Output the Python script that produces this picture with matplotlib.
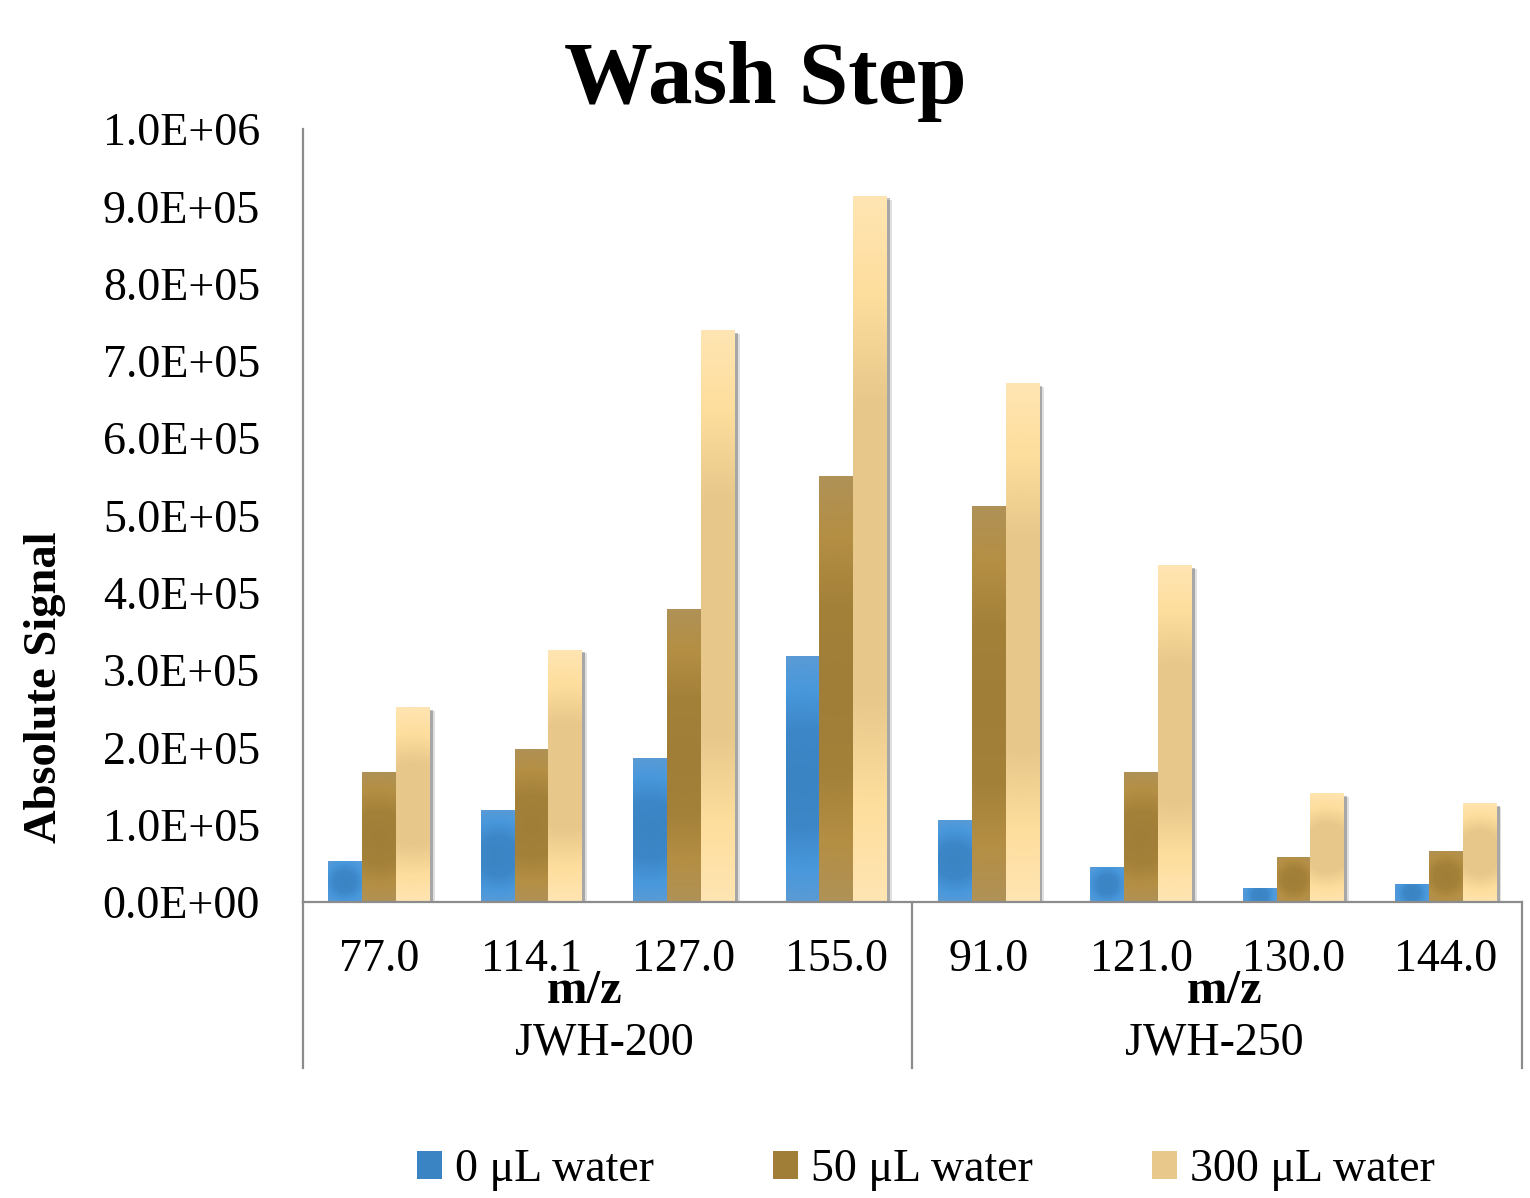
import numpy as np
import matplotlib
matplotlib.use("Agg")
import matplotlib.pyplot as plt
import matplotlib.patheffects as pe
import matplotlib.transforms as mtransforms
from matplotlib.patches import Patch
from matplotlib.colors import to_rgb
from matplotlib.ticker import FormatStrFormatter

# ---- data -------------------------------------------------------------
mz_labels = ["77.0", "114.1", "127.0", "155.0", "91.0", "121.0", "130.0", "144.0"]
compounds = ["JWH-200", "JWH-250"]
series_names = ["0 μL water", "50 μL water", "300 μL water"]
water_0 = [5.2e4, 1.18e5, 1.86e5, 3.17e5, 1.05e5, 4.5e4, 1.7e4, 2.3e4]
water_50 = [1.68e5, 1.97e5, 3.79e5, 5.51e5, 5.11e5, 1.68e5, 5.8e4, 6.5e4]
water_300 = [2.51e5, 3.26e5, 7.39e5, 9.13e5, 6.71e5, 4.35e5, 1.40e5, 1.27e5]
y_ticks = np.arange(0, 1.0e6 + 1, 1.0e5)

# radial gradient stops (centre -> edge) for each series
gradients = [
    ["#3A84C4", "#3D87C8", "#4898DC", "#5B9BD5"],
    ["#A07E38", "#A48139", "#B48F44", "#B09258"],
    ["#E9C88B", "#E7C78A", "#FEDE9D", "#FFE5B3"],
]
stop_pos = [0.0, 0.4, 0.72, 1.0]

plt.rcParams["font.family"] = ["Liberation Serif", "DejaVu Serif"]

W, H = 1530, 1198
fig = plt.figure(figsize=(W / 100, H / 100), dpi=100)
ax = fig.add_axes([303 / W, 1 - 902 / H, 1219 / W, 773 / H])

n_groups = len(mz_labels)
x = np.arange(n_groups)
bw = 0.222
offsets = [-bw, 0.0, bw]
series = [water_0, water_50, water_300]

ax.set_xlim(-0.5, n_groups - 0.5)
ax.set_ylim(0, 1.0e6)


def radial_fill(x0, x1, h, stops):
    """Paint a bar rectangle with a centre-out radial gradient."""
    p0 = ax.transData.transform((x0, 0))
    p1 = ax.transData.transform((x1, h))
    wpx = max(abs(p1[0] - p0[0]), 2)
    hpx = max(abs(p1[1] - p0[1]), 2)
    nx, ny = int(np.ceil(wpx)), int(np.ceil(hpx))
    xs = (np.arange(nx) + 0.5) - nx / 2
    ys = (np.arange(ny) + 0.5) - ny / 2
    X, Y = np.meshgrid(xs, ys)
    r = np.sqrt(X ** 2 + Y ** 2) / np.sqrt((nx / 2) ** 2 + (ny / 2) ** 2)
    cols = np.array([to_rgb(c) for c in stops])
    img = np.zeros((ny, nx, 3))
    for k in range(3):
        img[..., k] = np.interp(r, stop_pos, cols[:, k])
    ax.imshow(img, extent=(x0, x1, 0, h), origin="lower", aspect="auto",
              interpolation="bilinear", zorder=3)


shadow = [
    pe.SimplePatchShadow(offset=(3.5, -2.5), shadow_rgbFace="#000000", alpha=0.12),
    pe.SimplePatchShadow(offset=(2.2, -1.6), shadow_rgbFace="#000000", alpha=0.25),
]

for i, vals in enumerate(series):
    bars = ax.bar(x + offsets[i], vals, width=bw, color=gradients[i][1],
                  linewidth=0, zorder=2, path_effects=shadow)
    for b in bars:
        radial_fill(b.get_x(), b.get_x() + b.get_width(), b.get_height(), gradients[i])

ax.set_xlim(-0.5, n_groups - 0.5)
ax.set_ylim(0, 1.0e6)

# axes styling
for s in ["top", "right"]:
    ax.spines[s].set_visible(False)
for s in ["left", "bottom"]:
    ax.spines[s].set_color("#8C8C8C")
    ax.spines[s].set_linewidth(1.6)
ax.spines["bottom"].set_zorder(4)

ax.set_yticks(y_ticks)
ax.yaxis.set_major_formatter(FormatStrFormatter("%.1E"))
ax.tick_params(axis="y", length=0, pad=31, labelsize=33)
ax.set_xticks(x)
ax.set_xticklabels(mz_labels)
ax.tick_params(axis="x", length=0, pad=26, labelsize=33)

# category separators below the axis
trans = mtransforms.blended_transform_factory(ax.transData, ax.transAxes)
for xb in [-0.5, n_groups / 2 - 0.5, n_groups - 0.5]:
    ax.plot([xb, xb], [0, -0.2147], transform=trans, color="#8C8C8C",
            lw=1.6, clip_on=False, zorder=4)

for xc, name in zip([1.5, 5.5], compounds):
    ax.text(xc - 0.02, -0.1825, name, transform=trans, ha="center", va="center",
            fontsize=33)
for xm in [1.35, 5.55]:
    ax.text(xm, -0.115, "m/z", transform=trans, ha="center", va="center",
            fontsize=35, fontweight="bold")

# title and y label
fig.text(765 / W, 1 - 103 / H, "Wash Step", ha="center", va="baseline",
         fontsize=64, fontweight="bold")
fig.text(45 / W, 1 - 687 / H, "Absolute Signal", ha="center", va="center",
         rotation=90, fontsize=33.5, fontweight="bold")

# legend
handles = [Patch(facecolor=g[0], edgecolor="none") for g in gradients]
fig.legend(handles, series_names, loc="center", bbox_to_anchor=(926 / W, 1 - 1170 / H),
           ncol=3, frameon=False, fontsize=33, handlelength=0.55, handleheight=0.55,
           handletextpad=0.28, columnspacing=2.6, borderaxespad=0)

fig.savefig("out.png", dpi=100)
